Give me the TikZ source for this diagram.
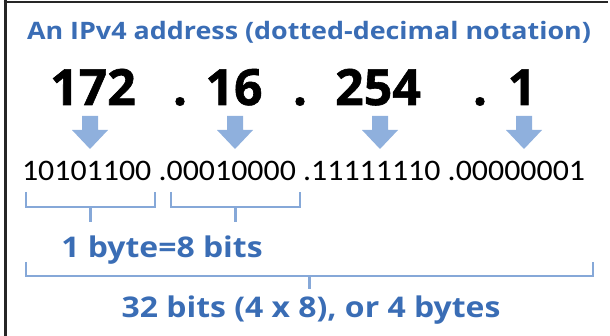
\documentclass[tikz,border=0pt]{standalone}
\usepackage{fontspec}
\setmainfont{Open Sans}
\newfontfamily\lblfont[FakeStretch=1.12]{Open Sans}
\newfontfamily\numfont[FakeBold=1.2]{Open Sans}
\newfontfamily\binfont[FakeStretch=1.07]{Carlito}
\definecolor{txtblue}{HTML}{3A6DB5}
\definecolor{arrblue}{HTML}{8FB0DD}
\definecolor{brkblue}{HTML}{86A8D8}
\begin{document}
\begin{tikzpicture}[x=1pt,y=-1pt,
  bluelbl/.style={text=txtblue,font=\lblfont\fontsize{28.5}{28.5}\selectfont\bfseries,inner sep=0pt,anchor=base},
  titlelbl/.style={bluelbl,font=\lblfont\fontsize{24}{24}\selectfont\bfseries},
  bignum/.style={text=black,font=\numfont\fontsize{50}{50}\selectfont\bfseries,inner sep=0pt,anchor=base},
  binlbl/.style={text=black,font=\binfont\fontsize{29.8}{29.8}\selectfont,inner sep=0pt,anchor=base},
  downarrow/.style={fill=arrblue,draw=none},
  bracket/.style={draw=brkblue,line width=2.2pt}]
\useasboundingbox (0,0) rectangle (610,336);
% frame (top and left only)
\draw[line width=2.5pt,black!85] (3.5,2) -- (608,2);
\draw[line width=3pt,black!85] (5,0) -- (5,336);
% title
\node[titlelbl] (title) at (309,40) {An IPv4 address (dotted-decimal notation)};
% numbers
\node[bignum] (n1) at (93,105) {172};
\node[bignum] (d1) at (180,105) {.};
\node[bignum] (n2) at (234,105) {16};
\node[bignum] (d2) at (300,105) {.};
\node[bignum] (n3) at (378,105) {254};
\node[bignum] (d3) at (480,105) {.};
\node[bignum] (n4) at (522,105) {1};
% arrows
\foreach \cx/\nm in {90/a1,235/a2,380/a3,524/a4}{
  \fill[downarrow] (\cx-8,116) -- (\cx+8,116) -- (\cx+8,130) -- (\cx+18,130) -- (\cx,149) -- (\cx-18,130) -- (\cx-8,130) -- cycle;
  \coordinate (\nm) at (\cx,149);
}
% binary
\node[binlbl] (bin) at (303.5,181) {10101100 .00010000 .11111110 .00000001};
% small brackets
\coordinate (b1l) at (26,192); \coordinate (b1r) at (155,192); \coordinate (b1c) at (90.5,207);
\coordinate (b2l) at (171,192); \coordinate (b2r) at (300,192); \coordinate (b2c) at (235.5,207);
\draw[bracket] (b1l) |- (b1r |- b1c) -- (b1r);
\draw[bracket] (b1c) -- ++(0,15);
\draw[bracket] (b2l) |- (b2r |- b2c) -- (b2r);
\draw[bracket] (b2c) -- ++(0,15);
\node[bluelbl] (byte) at (162,258) {1 byte=8 bits};
% big bracket
\coordinate (bl) at (26,262); \coordinate (br) at (593,262); \coordinate (bc) at (309.5,276);
\draw[bracket] (bl) |- (br |- bc) -- (br);
\draw[bracket] (bc) -- ++(0,13);
\node[bluelbl] (total) at (311,318) {32 bits (4 x 8), or 4 bytes};
\end{tikzpicture}
\end{document}
